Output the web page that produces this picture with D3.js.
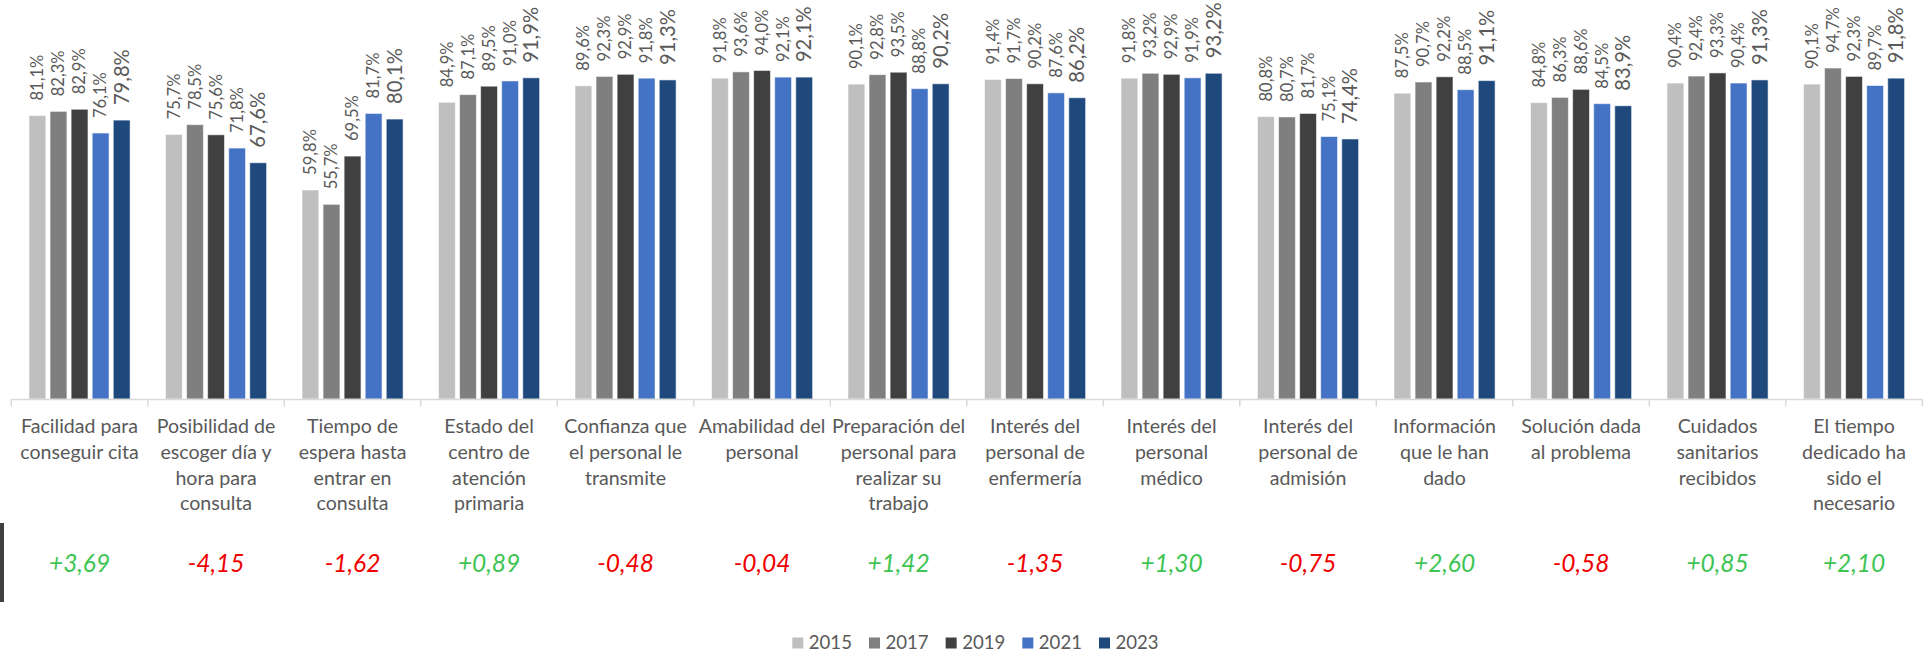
<!DOCTYPE html>
<html lang="es">
<head>
<meta charset="utf-8">
<script src="https://cdn.jsdelivr.net/npm/d3@7"></script>
<style>
  html, body { margin: 0; padding: 0; background: #fff; }
  svg { display: block; }
  text { font-family: Lato, "Open Sans", sans-serif; }
</style>
</head>
<body>
<svg id="chart" width="1930" height="653"></svg>
<script>
// Survey items (each entry is the wrapped label, one string per line)
const categories = [
  ["Facilidad para", "conseguir cita"],
  ["Posibilidad de", "escoger día y", "hora para", "consulta"],
  ["Tiempo de", "espera hasta", "entrar en", "consulta"],
  ["Estado del", "centro de", "atención", "primaria"],
  ["Confianza que", "el personal le", "transmite"],
  ["Amabilidad del", "personal"],
  ["Preparación del", "personal para", "realizar su", "trabajo"],
  ["Interés del", "personal de", "enfermería"],
  ["Interés del", "personal", "médico"],
  ["Interés del", "personal de", "admisión"],
  ["Información", "que le han", "dado"],
  ["Solución dada", "al problema"],
  ["Cuidados", "sanitarios", "recibidos"],
  ["El tiempo", "dedicado ha", "sido el", "necesario"]
];

const years = ["2015", "2017", "2019", "2021", "2023"];

// Satisfaction (%) per item, one array per survey year
const values2015 = [81.1, 75.7, 59.8, 84.9, 89.6, 91.8, 90.1, 91.4, 91.8, 80.8, 87.5, 84.8, 90.4, 90.1];
const values2017 = [82.3, 78.5, 55.7, 87.1, 92.3, 93.6, 92.8, 91.7, 93.2, 80.7, 90.7, 86.3, 92.4, 94.7];
const values2019 = [82.9, 75.6, 69.5, 89.5, 92.9, 94.0, 93.5, 90.2, 92.9, 81.7, 92.2, 88.6, 93.3, 92.3];
const values2021 = [76.1, 71.8, 81.7, 91.0, 91.8, 92.1, 88.8, 87.6, 91.9, 75.1, 88.5, 84.5, 90.4, 89.7];
const values2023 = [79.8, 67.6, 80.1, 91.9, 91.3, 92.1, 90.2, 86.2, 93.2, 74.4, 91.1, 83.9, 91.3, 91.8];

// Change shown under each item
const changes = [3.69, -4.15, -1.62, 0.89, -0.48, -0.04, 1.42, -1.35, 1.30, -0.75, 2.60, -0.58, 0.85, 2.10];

const seriesColors = ["#BFBFBF", "#7F7F7F", "#404040", "#4472C4", "#1F497D"];

const series = [values2015, values2017, values2019, values2021, values2023];

const es = d3.formatLocale({ decimal: ",", thousands: ".", grouping: [3], currency: ["", " €"], minus: "-" });
const fmtPct = v => es.format(".1f")(v) + "%";
const fmtChange = es.format("+.2f");

const svg = d3.select("#chart");

const plotLeft = 11.3, plotRight = 1922.3;
const baseY = 399, topY = 49.5;

const x = d3.scaleBand()
  .domain(d3.range(categories.length))
  .range([plotLeft, plotRight])
  .paddingInner(0).paddingOuter(0);

const groupPad = 17.7;
const xSub = d3.scaleBand()
  .domain(years)
  .range([groupPad, x.bandwidth() - groupPad])
  .paddingInner(0.2)
  .paddingOuter(0);

const y = d3.scaleLinear().domain([0, 100]).range([baseY, topY]);

// Bars
const groups = svg.append("g").selectAll("g.cat")
  .data(categories.map((c, i) => i))
  .join("g")
  .attr("class", "cat")
  .attr("transform", i => `translate(${x(i)},0)`);

years.forEach((yr, s) => {
  groups.append("rect")
    .attr("x", i => xSub(yr))
    .attr("y", i => y(series[s][i]))
    .attr("width", xSub.bandwidth())
    .attr("height", i => y(0) - y(series[s][i]))
    .attr("fill", seriesColors[s])
    .attr("stroke", "#ffffff")
    .attr("stroke-opacity", 0.55)
    .attr("stroke-width", 1);
});

// Rotated value labels above each bar
years.forEach((yr, s) => {
  const big = s === 4;
  groups.append("text")
    .attr("transform", i => {
      const cx = xSub(yr) + xSub.bandwidth() / 2 + (big ? 7 : 5.8);
      const cy = y(series[s][i]) - 15;
      return `translate(${cx},${cy}) rotate(-90)`;
    })
    .attr("text-anchor", "start")
    .attr("font-size", big ? 20.2 : 16.6)
    .attr("fill", "#595959")
    .text(i => fmtPct(series[s][i]));
});

// Category axis
const axisG = svg.append("g");
axisG.append("line")
  .attr("x1", plotLeft).attr("x2", plotRight)
  .attr("y1", baseY + 0.5).attr("y2", baseY + 0.5)
  .attr("stroke", "#D9D9D9").attr("stroke-width", 1.5);

const boundaries = categories.map((c, i) => x(i)).concat([plotRight]);
axisG.selectAll("line.tick")
  .data(boundaries)
  .join("line")
  .attr("class", "tick")
  .attr("x1", d => d).attr("x2", d => d)
  .attr("y1", baseY).attr("y2", baseY + 7.5)
  .attr("stroke", "#D9D9D9").attr("stroke-width", 1.5);

// Category labels
const catLabels = axisG.selectAll("text.cat")
  .data(categories)
  .join("text")
  .attr("class", "cat")
  .attr("text-anchor", "middle")
  .attr("font-size", 19.6)
  .attr("fill", "#595959");
catLabels.each(function (lines, i) {
  d3.select(this).selectAll("tspan")
    .data(lines)
    .join("tspan")
    .attr("x", x(i) + x.bandwidth() / 2)
    .attr("y", (d, k) => 433 + k * 25.8)
    .text(d => d);
});

// Change row
svg.append("rect")
  .attr("x", 0).attr("y", 523).attr("width", 4).attr("height", 79)
  .attr("fill", "#404040");

svg.append("g").selectAll("text")
  .data(changes)
  .join("text")
  .attr("x", (d, i) => x(i) + x.bandwidth() / 2)
  .attr("y", 571.5)
  .attr("text-anchor", "middle")
  .attr("font-size", 24.5)
  .attr("font-style", "italic")
  .attr("fill", d => d >= 0 ? "#3EC453" : "#F00000")
  .text(d => fmtChange(d));

// Legend
const legendX = d3.scalePoint().domain(years).range([792.3, 1099]);
const legend = svg.append("g").selectAll("g")
  .data(years)
  .join("g")
  .attr("transform", d => `translate(${legendX(d)},0)`);
legend.append("rect")
  .attr("x", 0).attr("y", 637.5).attr("width", 11).attr("height", 11)
  .attr("fill", (d, i) => seriesColors[i]);
legend.append("text")
  .attr("x", 16.5).attr("y", 648.5)
  .attr("font-size", 18.6)
  .attr("fill", "#595959")
  .text(d => d);
</script>
</body>
</html>
